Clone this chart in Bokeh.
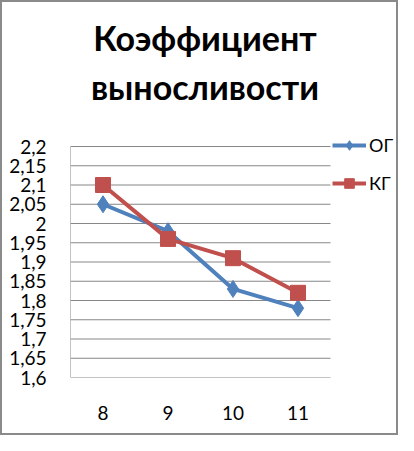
from bokeh.plotting import figure
from bokeh.models import Range1d, FixedTicker, CustomJSTickFormatter, Legend, LegendItem, Div
from bokeh.layouts import column
from bokeh.embed import file_html
from bokeh.resources import INLINE

categories = ["8", "9", "10", "11"]
og_values = [2.05, 1.98, 1.83, 1.78]
kg_values = [2.10, 1.96, 1.91, 1.82]
y_ticks = [1.6, 1.65, 1.7, 1.75, 1.8, 1.85, 1.9, 1.95, 2.0, 2.05, 2.1, 2.15, 2.2]
title_lines = ["Коэффициент", "выносливости"]
series_names = ["ОГ", "КГ"]

FONT = "Lato"
BLUE = "#4F81BD"
RED = "#C0504D"
GRAY = "#878787"

x_pos = [i + 0.5 for i in range(len(categories))]
n = len(categories)

title_div = Div(text="<br>".join(title_lines), width=394, height=112, margin=0,
                styles={"font-family": FONT, "font-size": "34px", "font-weight": "bold",
                        "line-height": "49px", "text-align": "center", "color": "black",
                        "padding-top": "11px", "padding-left": "12px", "box-sizing": "border-box",
                        "background": "white", "width": "394px"})

p = figure(width=394, height=319, output_backend="svg", toolbar_location=None,
           x_range=Range1d(0, n + 1), y_range=Range1d(y_ticks[0], y_ticks[-1] + 0.0338),
           min_border_left=68, min_border_right=1, min_border_top=19, min_border_bottom=56,
           margin=0)
p.outline_line_color = None
p.background_fill_color = "white"
p.border_fill_color = "white"

# gridlines and frame lines limited to the category area
p.segment(x0=0, x1=n, y0=y_ticks, y1=y_ticks, line_color=GRAY, line_width=1)
p.segment(x0=0, x1=0, y0=y_ticks[0], y1=y_ticks[-1], line_color=GRAY, line_width=1)

p.xgrid.grid_line_color = None
p.ygrid.grid_line_color = None

p.yaxis.ticker = FixedTicker(ticks=y_ticks)
p.yaxis.formatter = CustomJSTickFormatter(code="return (Math.round(tick*100)/100).toString().replace('.', ',');")
p.yaxis.major_tick_line_color = None
p.yaxis.minor_tick_line_color = None
p.yaxis.axis_line_color = None
p.yaxis.major_label_text_font = FONT
p.yaxis.major_label_text_font_size = "19px"
p.yaxis.major_label_text_color = "black"
p.yaxis.major_label_standoff = 18

p.xaxis.ticker = FixedTicker(ticks=x_pos)
p.xaxis.major_label_overrides = {x: c for x, c in zip(x_pos, categories)}
p.xaxis.major_tick_line_color = None
p.xaxis.minor_tick_line_color = None
p.xaxis.axis_line_color = None
p.xaxis.major_label_text_font = FONT
p.xaxis.major_label_text_font_size = "19px"
p.xaxis.major_label_text_color = "black"
p.xaxis.major_label_standoff = 22

r1l = p.line(x_pos, og_values, line_color=BLUE, line_width=4)
r1m = p.scatter(x_pos, og_values, marker="diamond", size=17, fill_color=BLUE, line_color=BLUE)
r2l = p.line(x_pos, kg_values, line_color=RED, line_width=4)
r2m = p.scatter(x_pos, kg_values, marker="square", size=15, fill_color=RED, line_color=RED)

legend = Legend(items=[LegendItem(label=series_names[0], renderers=[r1l, r1m]),
                       LegendItem(label=series_names[1], renderers=[r2l, r2m])],
                location=(262, 182), orientation="vertical",
                glyph_width=34, glyph_height=24, label_standoff=3, spacing=14,
                padding=0, margin=0, border_line_color=None, background_fill_alpha=0,
                label_text_font=FONT, label_text_font_size="18px", label_text_color="black")
p.add_layout(legend)

layout = column(title_div, p, margin=0, spacing=0,
                styles={"border": "2px solid #8a8a8a", "background": "white"})

open("out.html", "w").write(file_html(layout, INLINE))
